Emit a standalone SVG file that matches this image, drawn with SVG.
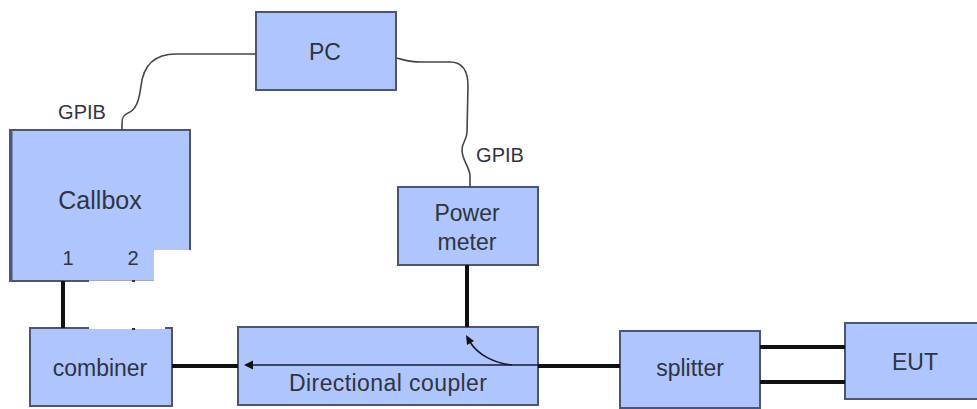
<svg xmlns="http://www.w3.org/2000/svg" width="977" height="409" viewBox="0 0 977 409">
<style>
.box{fill:#aec6fd;stroke:#4d5670;stroke-width:2}
.lbl{font-family:"Liberation Sans",Arial,sans-serif;fill:#30343e;text-anchor:middle}
.cable{fill:none;stroke:#454545;stroke-width:1.6}
.rf{fill:none;stroke:#111;stroke-width:4}
.thin{fill:none;stroke:#1a1a2a;stroke-width:1.6}
</style>
<rect width="977" height="409" fill="#fff"/>
<g id="pc">
<rect class="box" x="256" y="12" width="140" height="78"/>
<text class="lbl" x="325" y="60" font-size="23">PC</text>
</g>
<g id="callbox">
<rect class="box" x="10" y="130" width="180" height="151"/>
<line x1="11" y1="130" x2="11" y2="281" stroke="#4a5680" stroke-width="3"/>
<text class="lbl" x="100" y="209" font-size="25">Callbox</text>
<text class="lbl" x="68" y="265" font-size="20">1</text>
<text class="lbl" x="133" y="265" font-size="20">2</text>
<rect x="154" y="250" width="40" height="34" fill="#fff"/>
</g>
<g id="power-meter">
<rect class="box" x="398" y="187" width="140" height="78"/>
<text class="lbl" x="467" y="221" font-size="23">Power</text>
<text class="lbl" x="467" y="250" font-size="23">meter</text>
</g>
<g id="combiner">
<rect class="box" x="30" y="328" width="142" height="78"/>
<text class="lbl" x="100" y="376" font-size="23">combiner</text>
</g>
<rect x="89" y="280.5" width="76" height="48.5" fill="#fff"/>
<rect x="132" y="280" width="3" height="2" fill="#333"/>
<rect x="132" y="328" width="3" height="2" fill="#333"/>
<g id="directional-coupler">
<rect class="box" x="238" y="327" width="300" height="78"/>
<text class="lbl" x="388" y="391" font-size="23" textLength="198">Directional coupler</text>
</g>
<g id="splitter">
<rect class="box" x="620" y="331" width="140" height="77"/>
<text class="lbl" x="690" y="376" font-size="23">splitter</text>
</g>
<g id="eut">
<rect class="box" x="845" y="323" width="140" height="76"/>
<text class="lbl" x="915" y="370" font-size="23">EUT</text>
</g>
<g id="connectors">
<path class="cable" d="M256,54 L176,54 C152,54 143,68 141,86 C139,101 136,110 128,113 C123,115 122,118 122,123 L122,130"/>
<text class="lbl" x="82" y="119" font-size="20">GPIB</text>
<path class="cable" d="M396,58 C405,60 410,62 420,62 L450,62 C462,62 468,70 468,86 L467,132 C467,140 462,142 462,150 C462,160 470,168 470,176 L470,187"/>
<text class="lbl" x="500" y="162" font-size="20">GPIB</text>
<line class="rf" x1="63" y1="281" x2="63" y2="328"/>
<line class="rf" x1="172" y1="366" x2="238" y2="366"/>
<line class="thin" x1="250" y1="365" x2="538" y2="365"/>
<polygon points="244,365 253,360.5 253,369.5" fill="#111"/>
<line class="rf" x1="467" y1="265" x2="467" y2="327"/>
<path class="thin" d="M512,365 C494,363 478,355 470,342"/>
<polygon points="466,335 474,341 467,345" fill="#111"/>
<line class="rf" x1="538" y1="366" x2="620" y2="366"/>
<line class="rf" x1="760" y1="347" x2="845" y2="347"/>
<line class="rf" x1="760" y1="382" x2="845" y2="382"/>
</g>
</svg>
